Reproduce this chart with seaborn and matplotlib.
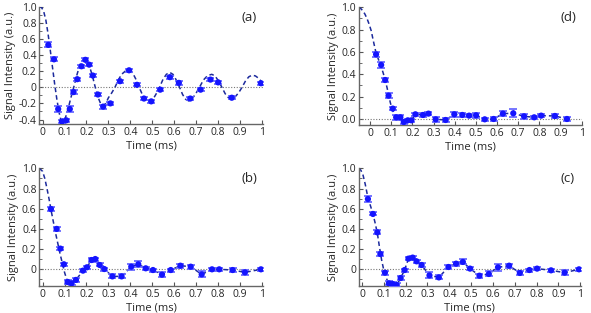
import numpy as np
import pandas as pd
import matplotlib
matplotlib.use("Agg")
import matplotlib.pyplot as plt
import seaborn as sns

# --- data (time in ms, signal in a.u.) ---
t_a = [0.026, 0.052, 0.071, 0.088, 0.108, 0.124, 0.141, 0.158, 0.177, 0.195, 0.212, 0.229,
       0.252, 0.276, 0.309, 0.353, 0.394, 0.430, 0.462, 0.495, 0.536, 0.580, 0.621, 0.673,
       0.720, 0.765, 0.800, 0.862, 0.995]
y_a = [0.525, 0.346, -0.27, -0.425, -0.41, -0.27, -0.06, 0.10, 0.26, 0.34, 0.28, 0.145,
       -0.09, -0.24, -0.20, 0.075, 0.21, 0.03, -0.14, -0.175, -0.03, 0.125, 0.054, -0.14,
       -0.03, 0.095, 0.06, -0.13, 0.05]
e_a = [0.03, 0.025, 0.04, 0.02, 0.02, 0.04, 0.02, 0.02, 0.02, 0.02, 0.02, 0.02,
       0.02, 0.025, 0.02, 0.02, 0.015, 0.02, 0.02, 0.015, 0.02, 0.02, 0.02, 0.02,
       0.02, 0.02, 0.02, 0.02, 0.02]
fit_t_a = [-0.015, -0.005, 0.005, 0.015, 0.025, 0.035, 0.045, 0.055, 0.065, 0.075, 0.082, 0.088,
           0.095, 0.105, 0.115, 0.128, 0.142, 0.155, 0.168, 0.180, 0.192, 0.204, 0.216, 0.228,
           0.240, 0.252, 0.264, 0.276, 0.288, 0.300, 0.315, 0.330, 0.345, 0.360, 0.377, 0.394,
           0.410, 0.425, 0.440, 0.456, 0.472, 0.488, 0.503, 0.518, 0.533, 0.549, 0.564, 0.579,
           0.594, 0.609, 0.624, 0.638, 0.652, 0.667, 0.682, 0.698, 0.715, 0.733, 0.752, 0.771,
           0.786, 0.801, 0.817, 0.832, 0.847, 0.862, 0.877, 0.893, 0.909, 0.925, 0.940, 0.955,
           0.970, 0.985, 1.000]
fit_y_a = [1.00, 0.99, 0.94, 0.83, 0.66, 0.46, 0.25, 0.04, -0.15, -0.31, -0.39, -0.425,
           -0.42, -0.37, -0.28, -0.14, 0.00, 0.14, 0.26, 0.33, 0.345, 0.32, 0.24, 0.13,
           0.00, -0.12, -0.20, -0.23, -0.20, -0.13, -0.07, 0.00, 0.09, 0.16, 0.20, 0.21,
           0.18, 0.10, 0.00, -0.10, -0.16, -0.18, -0.15, -0.08, 0.00, 0.10, 0.16, 0.185,
           0.16, 0.09, 0.00, -0.09, -0.15, -0.17, -0.14, -0.08, 0.00, 0.09, 0.145, 0.16,
           0.14, 0.08, 0.00, -0.08, -0.13, -0.14, -0.12, -0.07, 0.00, 0.08, 0.13, 0.15,
           0.14, 0.11, 0.06]

t_b = [0.038, 0.064, 0.081, 0.097, 0.114, 0.132, 0.152, 0.184, 0.202, 0.223, 0.240, 0.260,
       0.281, 0.318, 0.360, 0.404, 0.436, 0.470, 0.503, 0.544, 0.584, 0.628, 0.675, 0.725,
       0.772, 0.805, 0.866, 0.922, 0.995]
y_b = [0.597, 0.40, 0.205, 0.05, -0.125, -0.139, -0.105, -0.013, 0.02, 0.092, 0.102, 0.043,
       0.003, -0.07, -0.07, 0.026, 0.05, 0.01, -0.007, -0.053, -0.007, 0.036, 0.026, -0.05,
       0.0, 0.0, -0.007, -0.03, 0.0]
e_b = [0.02, 0.02, 0.015, 0.015, 0.02, 0.02, 0.02, 0.015, 0.015, 0.02, 0.015, 0.015,
       0.015, 0.02, 0.02, 0.03, 0.03, 0.015, 0.015, 0.025, 0.015, 0.02, 0.02, 0.03,
       0.015, 0.015, 0.02, 0.025, 0.015]
fit_t_b = [-0.015, 0.0, 0.01, 0.02, 0.03, 0.04, 0.05, 0.06, 0.07, 0.08, 0.09, 0.10,
           0.11, 0.12, 0.13, 0.14]
fit_y_b = [1.0, 0.97, 0.90, 0.80, 0.69, 0.57, 0.46, 0.35, 0.25, 0.15, 0.06, -0.03,
           -0.10, -0.14, -0.14, -0.12]

t_c = [0.027, 0.050, 0.070, 0.084, 0.105, 0.123, 0.140, 0.159, 0.177, 0.195, 0.213, 0.232,
       0.250, 0.273, 0.309, 0.352, 0.396, 0.431, 0.462, 0.495, 0.538, 0.581, 0.623, 0.674,
       0.723, 0.767, 0.802, 0.866, 0.928, 0.994]
y_c = [0.696, 0.548, 0.366, 0.152, -0.033, -0.139, -0.145, -0.155, -0.086, -0.007, 0.106, 0.116,
       0.079, 0.043, -0.06, -0.08, 0.023, 0.056, 0.073, 0.007, -0.063, -0.046, 0.02, 0.036,
       -0.036, -0.007, 0.007, -0.01, -0.033, 0.0]
e_c = [0.03, 0.015, 0.02, 0.02, 0.02, 0.02, 0.02, 0.02, 0.02, 0.015, 0.015, 0.015,
       0.015, 0.02, 0.03, 0.02, 0.02, 0.02, 0.025, 0.015, 0.02, 0.025, 0.035, 0.02,
       0.02, 0.015, 0.015, 0.015, 0.025, 0.015]
fit_t_c = [-0.015, -0.005, 0.005, 0.015, 0.027, 0.04, 0.05, 0.06, 0.07, 0.08, 0.09, 0.10,
           0.11, 0.12, 0.13]
fit_y_c = [1.0, 0.98, 0.93, 0.84, 0.71, 0.62, 0.55, 0.46, 0.36, 0.22, 0.09, -0.01,
           -0.08, -0.13, -0.15]

t_d = [0.028, 0.052, 0.071, 0.087, 0.107, 0.123, 0.143, 0.159, 0.178, 0.195, 0.214, 0.250,
       0.276, 0.310, 0.357, 0.398, 0.436, 0.468, 0.501, 0.542, 0.584, 0.628, 0.677, 0.728,
       0.776, 0.809, 0.874, 0.931]
y_d = [0.579, 0.484, 0.349, 0.209, 0.093, 0.015, 0.015, -0.027, -0.012, -0.012, 0.042, 0.036,
       0.048, -0.003, -0.009, 0.042, 0.036, 0.030, 0.033, -0.003, 0.0, 0.048, 0.051, 0.024,
       0.015, 0.030, 0.027, 0.0]
e_d = [0.02, 0.03, 0.015, 0.02, 0.015, 0.02, 0.02, 0.015, 0.015, 0.015, 0.015, 0.015,
       0.015, 0.02, 0.02, 0.02, 0.015, 0.015, 0.02, 0.015, 0.015, 0.02, 0.035, 0.02,
       0.015, 0.015, 0.02, 0.015]
fit_t_d = [-0.054, -0.045, -0.035, -0.025, -0.015, -0.005, 0.005, 0.015, 0.028, 0.04, 0.052,
           0.062, 0.071, 0.08, 0.087, 0.095, 0.102, 0.11, 0.118, 0.13]
fit_y_d = [1.0, 0.99, 0.97, 0.94, 0.90, 0.85, 0.79, 0.70, 0.59, 0.53, 0.47,
           0.41, 0.35, 0.28, 0.22, 0.15, 0.10, 0.06, 0.035, 0.015]

x_ticks = [0, 0.1, 0.2, 0.3, 0.4, 0.5, 0.6, 0.7, 0.8, 0.9, 1.0]
x_labels = ["0", "0.1", "0.2", "0.3", "0.4", "0.5", "0.6", "0.7", "0.8", "0.9", "1"]

sns.set_style("ticks")
plt.rcParams['font.family'] = ['Open Sans', 'DejaVu Sans']

fig = plt.figure(figsize=(5.91, 3.13), dpi=100)

panels = [
    # name, data, fit head, rect, xlim, ylim, yticks, ylabels, extend fit with data tail
    ("(a)", t_a, y_a, e_a, fit_t_a, fit_y_a, [0.0665, 0.604, 0.378, 0.375], (-0.015, 1.003), (-0.455, 1.0),
     [1.0, 0.8, 0.6, 0.4, 0.2, 0, -0.2, -0.4], ["1.0", "0.8", "0.6", "0.4", "0.2", "0", "-0.2", "-0.4"], False),
    ("(d)", t_d, y_d, e_d, fit_t_d, fit_y_d, [0.607, 0.6006, 0.377, 0.376], (-0.054, 1.0), (-0.054, 1.0),
     [1.0, 0.8, 0.6, 0.4, 0.2, 0.0], ["1.0", "0.8", "0.6", "0.4", "0.2", "0.0"], True),
    ("(b)", t_b, y_b, e_b, fit_t_b, fit_y_b, [0.0665, 0.0863, 0.378, 0.376], (-0.015, 1.003), (-0.165, 1.0),
     [1.0, 0.8, 0.6, 0.4, 0.2, 0], ["1.0", "0.8", "0.6", "0.4", "0.2", "0"], True),
    ("(c)", t_c, y_c, e_c, fit_t_c, fit_y_c, [0.607, 0.0863, 0.376, 0.376], (-0.015, 1.003), (-0.165, 1.0),
     [1.0, 0.8, 0.6, 0.4, 0.2, 0], ["1.0", "0.8", "0.6", "0.4", "0.2", "0"], True),
]

for name, t, y, e, ft, fy, rect, xl, yl, yt, ytl, extend in panels:
    ax = fig.add_axes(rect)
    ft = list(ft)
    fy = list(fy)
    if extend:
        for ti, yi in zip(t, y):
            if ti > ft[-1]:
                ft.append(ti)
                fy.append(yi)
    fit = pd.DataFrame({"t": ft, "y": fy})
    pts = pd.DataFrame({"t": t, "y": y, "e": e})

    ax.axhline(0, color="#777777", lw=0.8, ls=(0, (1, 1.5)), zorder=1)
    sns.lineplot(data=fit, x="t", y="y", ax=ax, color="#1c2a9c", lw=1.1,
                 sort=False, zorder=2)
    ax.lines[-1].set_dashes((3, 2))
    ax.errorbar(pts["t"], pts["y"], yerr=pts["e"], fmt="none", ecolor="#6b6bff",
                elinewidth=1.0, capsize=2.6, capthick=1.3, zorder=3)
    sns.scatterplot(data=pts, x="t", y="y", ax=ax, color="#1414ff", s=20,
                    marker="o", edgecolor="none", zorder=4)

    ax.set_xticks(x_ticks)
    ax.set_xticklabels(x_labels)
    ax.set_yticks(yt)
    ax.set_yticklabels(ytl)
    minor = [v for v in np.round(np.arange(-0.4, 1.01, 0.1), 2) if yl[0] <= v <= yl[1]]
    ax.set_yticks(minor, minor=True)
    ax.set_xlim(*xl)
    ax.set_ylim(*yl)
    ax.tick_params(axis="both", which="major", direction="in", length=3, labelsize=7.5,
                   width=0.8, color="#555555", pad=2)
    ax.tick_params(axis="y", which="minor", direction="in", length=1.8, width=0.6, color="#555555")
    ax.set_xlabel("Time (ms)", fontsize=8, labelpad=2)
    ax.set_ylabel("Signal Intensity (a.u.)", fontsize=8, labelpad=2)
    for s in ["top", "right"]:
        ax.spines[s].set_visible(False)
    for s in ["left", "bottom"]:
        ax.spines[s].set_color("#666666")
        ax.spines[s].set_linewidth(1.0)
    ax.text(0.94, 0.91, name, transform=ax.transAxes, fontsize=9.5, ha="center", va="center")

fig.savefig("out.png", dpi=100)
